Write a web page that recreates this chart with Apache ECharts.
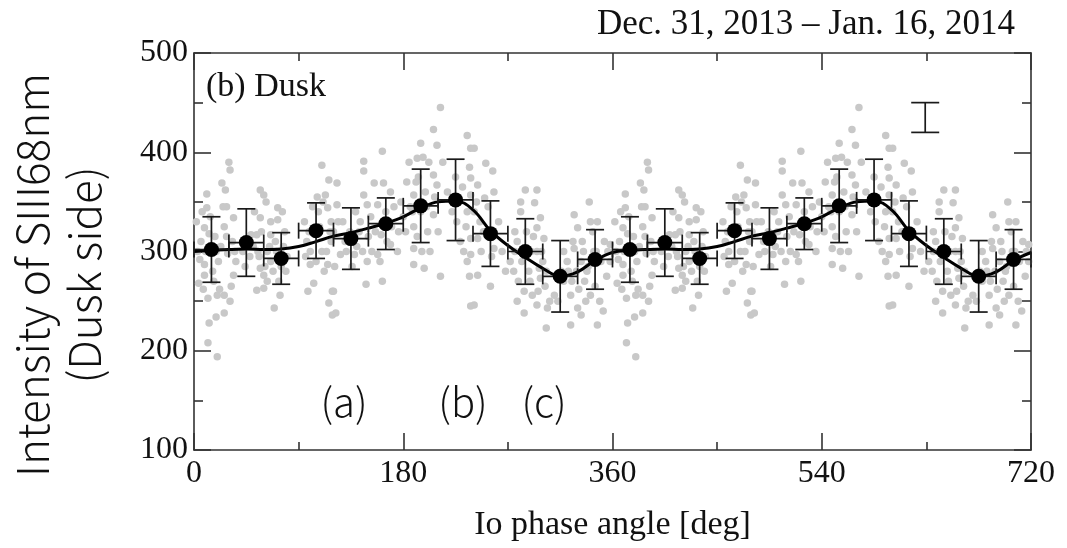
<!DOCTYPE html>
<html>
<head>
<meta charset="utf-8">
<script src="https://cdn.jsdelivr.net/npm/echarts@6/dist/echarts.min.js"></script>
<style>html,body{margin:0;padding:0;background:#fff}#c{width:1067px;height:548px}</style>
</head>
<body>
<div id="c"></div>
<script>
// ---- data (one Io-phase period, 0-360 deg; the figure repeats it for 360-720) ----
const xTicks = [0, 180, 360, 540, 720];
const yTicks = [100, 200, 300, 400, 500];
const binPhase = [15, 45, 75, 105, 135, 165, 195, 225, 255, 285, 315, 345];
const binValue = [302, 309, 293, 321, 313, 328, 346, 352, 318, 300, 275, 292];
const binErr   = [33, 34, 26, 28, 31, 26, 37, 41, 33, 33, 36, 30];
const binHalfWidth = [15, 15, 15, 15, 15, 15, 15, 15, 15, 15, 15, 15];
const curvePhase = [0,15,30,45,60,75,90,105,120,135,150,165,180,195,210,225,240,255,270,285,300,315,330,345,360];
const curveValue = [300,301,302,302.5,302,302.5,305,310,315.5,319,323.5,328.5,335,344,350,351,342,321,306,294,283,275,279.5,291,299];
const rawPhase = [30,31,24,27,11,11,28,34,26,9,6,9,9,12,20,26,31,26,19,13,12,20,57,60,72,72,66,57,54,57,60,54,60,74,69,34,49,66,77,110,116,113,115,118,118,115,103,119,116,119,100,97,95,
212,206,209,195,235,238,162,146,146,192,206,209,191,155,163,169,123,146,123,149,158,189,189,206,238,238,235,238,238,237,238,189,198,189,212,162,148,149,138,158,126,120,122,169,161,
241,251,257,244,258,250,241,244,247,258,244,255,241,285,295,281,293,281,298,295,301,278,295,275,297,298,284,278,291,295,284,304,303,327,340,341,330,347,327,333,336,324,341,330,333,324,347,310,313,358,358,
3,5,15,18,21,23,16,29,33,36,14,4,42,45,48,51,44,63,66,70,75,80,63,78,100,104,107,110,112,106,120,124,130,134,140,143,150,153,165,170,175,178,180,183,186,192,195,199,202,196,201,226,229,232,235,228,262,265,268,272,276,288,290,286,300,302,316,318,321,325,329,338,344,350,353,355,345,335,
2,7,10,13,17,22,25,28,32,35,8,19,52,55,58,62,65,68,71,73,76,79,56,61,96,99,102,105,108,111,114,117,121,98,128,131,136,139,142,145,152,156,160,166,172,176,
182,185,188,193,197,200,203,207,210,214,218,222,225,231,234,237,243,246,249,253,256,276,279,282,286,289,292,296,299,303,306,318,322,326,331,334,337,339,343,346,349,352,356];
const rawValue = [390,382,369,362,358,344,345,334,325,324,310,287,276,253,256,256,250,238,234,228,208,194,362,357,344,332,330,334,317,283,276,261,263,256,243,276,317,317,305,387,372,357,344,330,310,287,268,260,248,236,287,310,330,
445,423,407,409,417,404,401,391,381,394,377,367,370,369,369,360,369,357,347,347,347,357,325,337,374,357,340,313,297,275,245,303,283,287,275,270,267,290,297,297,297,260,238,307,317,
404,389,381,367,360,354,340,313,300,303,276,265,246,362,362,350,349,340,334,324,313,310,300,280,283,273,260,250,256,246,238,243,223,337,350,330,324,330,303,290,270,256,256,243,236,226,226,256,250,307,290,
300,292,300,315,290,305,280,298,310,290,335,268,300,310,295,305,285,300,290,310,285,295,270,320,300,320,340,300,280,355,320,330,310,320,305,330,315,300,340,325,300,350,335,370,345,315,340,360,390,300,320,330,310,300,290,350,330,300,280,290,320,280,300,320,290,265,280,270,290,270,280,280,300,290,310,275,265,300,
330,340,300,318,270,262,345,315,265,300,262,300,340,300,320,350,305,280,300,270,340,280,295,285,295,320,345,290,325,350,300,320,285,260,330,300,285,340,320,300,335,320,290,310,345,320,
320,390,340,375,395,345,300,355,320,390,360,340,375,365,325,385,350,330,320,345,295,300,270,290,300,270,315,260,300,280,250,300,280,310,262,310,250,285,320,300,250,240,300];
const refBar = [629, 435, 15];   // typical error bar shown in upper right
const periods = [0, 360];

// ---- build series data ----
const rawPts = [], binPts = [], errPts = [], curvePts = [];
periods.forEach(off => {
  rawPhase.forEach((p, i) => rawPts.push([p + off, rawValue[i]]));
  binPhase.forEach((p, i) => {
    binPts.push([p + off, binValue[i]]);
    errPts.push([p + off, binValue[i], binErr[i], binHalfWidth[i]]);
  });
});
curvePhase.forEach((p, i) => curvePts.push([p, curveValue[i]]));
curvePhase.slice(1).forEach((p, i) => curvePts.push([p + 360, curveValue[i + 1]]));

const INK = '#111';
const serif = 'Liberation Serif';
const sans = '"Noto Sans CJK JP", "Noto Sans", sans-serif';

function errRender(capV, capH) {
  return function (params, api) {
    const x = api.value(0), y = api.value(1), ey = api.value(2), ex = api.value(3);
    const top = api.coord([x, y + ey]), bot = api.coord([x, y - ey]);
    const st = {stroke: '#1a1a1a', lineWidth: 1.7, fill: null};
    const ch = [
      {type: 'line', shape: {x1: top[0], y1: top[1], x2: bot[0], y2: bot[1]}, style: st},
      {type: 'line', shape: {x1: top[0] - capV, y1: top[1], x2: top[0] + capV, y2: top[1]}, style: st},
      {type: 'line', shape: {x1: bot[0] - capV, y1: bot[1], x2: bot[0] + capV, y2: bot[1]}, style: st}
    ];
    if (ex > 0) {
      const l = api.coord([x - ex, y]), r = api.coord([x + ex, y]);
      ch.push({type: 'line', shape: {x1: l[0], y1: l[1], x2: r[0], y2: r[1]}, style: st});
      ch.push({type: 'line', shape: {x1: l[0], y1: l[1] - capH, x2: l[0], y2: l[1] + capH}, style: st});
      ch.push({type: 'line', shape: {x1: r[0], y1: r[1] - capH, x2: r[0], y2: r[1] + capH}, style: st});
    }
    return {type: 'group', children: ch};
  };
}

const axisLineStyle = {color: '#333', width: 1.6};
function xAx(pos, labels) {
  return {
    type: 'value', position: pos, min: xTicks[0], max: xTicks[xTicks.length - 1], interval: xTicks[1] - xTicks[0],
    axisLine: {show: true, onZero: false, lineStyle: axisLineStyle},
    axisTick: {show: true, inside: true, length: 17, lineStyle: axisLineStyle},
    minorTick: {show: true, splitNumber: 2, length: 8, lineStyle: axisLineStyle},
    splitLine: {show: false}, minorSplitLine: {show: false},
    axisLabel: {show: labels, fontFamily: serif, fontSize: 32, color: INK, margin: 8},
    name: labels ? 'Io phase angle [deg]' : '', nameLocation: 'middle', nameGap: 58,
    nameTextStyle: {fontFamily: serif, fontSize: 34, color: INK}
  };
}
function yAx(pos, labels) {
  return {
    type: 'value', position: pos, min: yTicks[0], max: yTicks[yTicks.length - 1], interval: yTicks[1] - yTicks[0],
    axisLine: {show: true, onZero: false, lineStyle: axisLineStyle},
    axisTick: {show: true, inside: true, length: 17, lineStyle: axisLineStyle},
    minorTick: {show: true, splitNumber: 2, length: 9, lineStyle: axisLineStyle},
    splitLine: {show: false}, minorSplitLine: {show: false},
    axisLabel: {show: labels, fontFamily: serif, fontSize: 32, color: INK, margin: 6}
  };
}

const chart = echarts.init(document.getElementById('c'), null, {renderer: 'canvas'});
chart.setOption({
  backgroundColor: '#fff',
  animation: false,
  grid: {left: 194, right: 36, top: 53, bottom: 98},
  xAxis: [xAx('bottom', true), xAx('top', false)],
  yAxis: [yAx('left', true), yAx('right', false)],
  series: [
    {type: 'scatter', data: rawPts, symbol: 'circle', symbolSize: 7.5, itemStyle: {color: '#c8c8c8', opacity: 1}, z: 1, silent: true},
    {type: 'line', data: curvePts, smooth: 0.4, showSymbol: false, lineStyle: {color: '#000', width: 3}, z: 3, silent: true},
    {type: 'custom', data: errPts, renderItem: errRender(9, 8), encode: {x: 0, y: 1}, z: 4, silent: true},
    {type: 'custom', data: [[refBar[0], refBar[1], refBar[2], 0]], renderItem: errRender(14, 0), encode: {x: 0, y: 1}, z: 4, silent: true},
    {type: 'scatter', data: binPts, symbol: 'circle', symbolSize: 15, itemStyle: {color: '#000', opacity: 1}, z: 5, silent: true}
  ],
  graphic: [
    {type: 'text', left: 206, top: 70, style: {text: '(b) Dusk', font: '34px "Liberation Serif"', fill: INK}},
    {type: 'text', right: 52, top: 7, style: {text: 'Dec. 31, 2013 – Jan. 16, 2014', font: '35px "Liberation Serif"', fill: INK}},
    {type: 'text', x: 344, y: 402, style: {text: '(a)', font: '300 40px ' + sans, fill: INK, textAlign: 'center', textVerticalAlign: 'middle'}},
    {type: 'text', x: 463, y: 402, style: {text: '(b)', font: '300 40px ' + sans, fill: INK, textAlign: 'center', textVerticalAlign: 'middle'}},
    {type: 'text', x: 544, y: 402, style: {text: '(c)', font: '300 40px ' + sans, fill: INK, textAlign: 'center', textVerticalAlign: 'middle'}},
    {type: 'text', x: 32, y: 275, rotation: Math.PI / 2, style: {text: 'Intensity of SIII68nm', font: '300 44px ' + sans, fill: INK, textAlign: 'center', textVerticalAlign: 'middle'}},
    {type: 'text', x: 84, y: 275, rotation: Math.PI / 2, style: {text: '(Dusk side)', font: '300 44px ' + sans, fill: INK, textAlign: 'center', textVerticalAlign: 'middle'}}
  ]
});
</script>
</body>
</html>
